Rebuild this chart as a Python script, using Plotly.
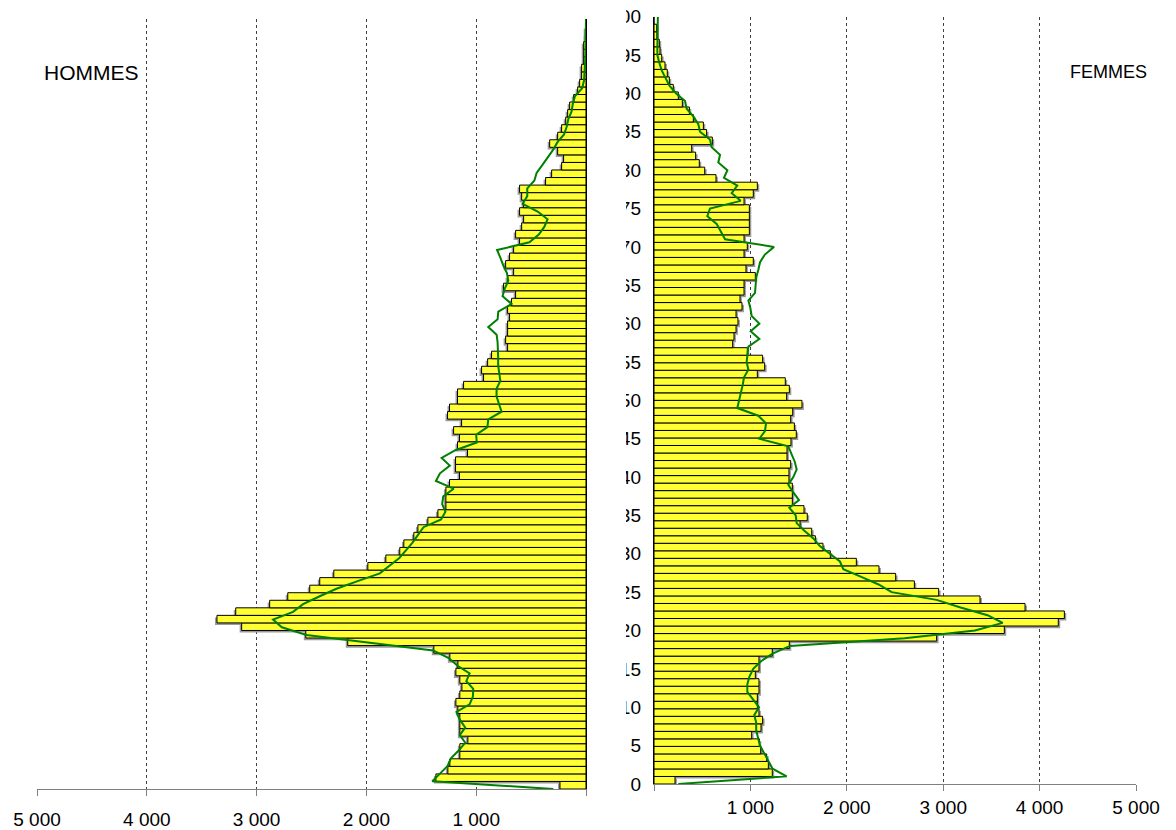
import plotly.graph_objects as go

# ---------------- data ----------------
ages = list(range(0, 102))          # bar categories (0 .. 101)
ages_ref = list(range(0, 101))      # reference line ages (0 .. 100)

hommes = [237, 1367, 1258, 1240, 1149, 1149, 1076, 1149, 1149, 1149,
          1167, 1185, 1149, 1130, 1149, 1185, 1167, 1240, 1386, 2170,
          2552, 3136, 3361, 3190, 2881, 2716, 2516, 2425, 2297, 1987,
          1823, 1696, 1659, 1568, 1531, 1440, 1349, 1276, 1276, 1276,
          1243, 1152, 1188, 1188, 1079, 1170, 1152, 1206, 1133, 1261,
          1243, 1170, 1170, 1115, 933, 951, 896, 860, 714, 732,
          714, 714, 696, 714, 678, 641, 751, 714, 659, 732,
          696, 659, 605, 641, 586, 568, 605, 568, 586, 605,
          368, 313, 222, 204, 258, 331, 258, 222, 185, 167,
          149, 112, 76, 58, 40, 40, 21, 21, 21, 5,
          3, 0]

femmes = [218, 1227, 1186, 1169, 1107, 1093, 1013, 1110, 1127, 1089,
          1072, 1072, 1089, 1089, 1051, 1089, 1089, 1227, 1404, 2932,
          3634, 4194, 4257, 3849, 3382, 2953, 2701, 2507, 2334, 2099,
          1829, 1753, 1674, 1636, 1515, 1590, 1556, 1435, 1435, 1435,
          1400, 1400, 1418, 1380, 1380, 1421, 1476, 1456, 1418, 1439,
          1535, 1376, 1404, 1362, 1072, 1148, 1127, 968, 816, 830,
          851, 871, 851, 913, 892, 934, 934, 1051, 954, 1030,
          934, 968, 934, 989, 989, 989, 989, 934, 1030, 1072,
          643, 526, 470, 432, 391, 605, 546, 512, 408, 367,
          294, 252, 200, 159, 138, 114, 80, 62, 55, 30,
          28, 0]

hommes_ref = [298, 1400, 1330, 1260, 1230, 1160, 1100, 1149, 1100, 1150,
              1180, 1060, 1030, 1027, 1090, 1060, 1170, 1250, 1392, 1970,
              2546, 2770, 2850, 2668, 2577, 2430, 2273, 2080, 1878, 1790,
              1700, 1640, 1580, 1530, 1480, 1320, 1280, 1310, 1300, 1205,
              1367, 1330, 1240, 1315, 1190, 995, 1000, 898, 890, 769,
              790, 815, 814, 780, 790, 800, 800, 800, 805, 814,
              890, 805, 799, 678, 760, 740, 708, 720, 754, 780,
              810, 516, 430, 380, 350, 440, 577, 535, 535, 471,
              450, 400, 350, 300, 260, 200, 176, 161, 131, 120,
              100, 35, 18, 12, 8, 6, 5, 4, 3, 2,
              0]

femmes_ref = [252, 1376, 1230, 1185, 1140, 1100, 1080, 1060, 1060, 1040,
              1090, 1030, 968, 968, 990, 1030, 1110, 1230, 1411, 2600,
              3330, 3617, 3460, 3180, 2932, 2465, 2330, 2150, 1964, 1929,
              1820, 1720, 1653, 1560, 1480, 1470, 1404, 1504, 1445, 1393,
              1445, 1480, 1460, 1428, 1393, 1093, 1151, 1162, 1082, 864,
              885, 899, 920, 934, 979, 961, 970, 979, 1093, 1003,
              1093, 1013, 1000, 979, 1048, 1055, 1060, 1082, 1100, 1150,
              1245, 737, 690, 650, 553, 581, 899, 806, 864, 726,
              761, 667, 685, 598, 581, 477, 460, 408, 339, 322,
              230, 160, 120, 80, 55, 35, 35, 35, 36, 38,
              40]

x_tickvals = [0, 1000, 2000, 3000, 4000, 5000]
x_ticktext = ["", "1 000", "2 000", "3 000", "4 000", "5 000"]
age_tickvals = list(range(0, 101, 5))
age_ticktext = [str(v) for v in age_tickvals]

# ---------------- layout helpers ----------------
# the page body has an 8 px margin, so the figure is placed at (8, 8)
OFF = 8
FW, FH = 1176 - OFF, 830 - OFF
def px(x):
    return (x - OFF) / FW
def py(y):
    return 1 - (y - OFF) / FH

FONT = "Liberation Sans, Arial, sans-serif"
BAR_FILL = "#FFFF33"
SHADOW = "#9a9a9a"
GREEN = "#008000"
SH_DY = 0.28   # drop-shadow offset (in categories)

fig = go.Figure()

# drop shadows
fig.add_trace(go.Bar(x=[v + 18 if v > 0 else 0 for v in hommes],
                     y=[a - SH_DY for a in ages], orientation="h", width=1,
                     marker=dict(color=SHADOW, line=dict(width=0)),
                     xaxis="x", yaxis="y", hoverinfo="skip"))
fig.add_trace(go.Bar(x=[v + 20 if v > 0 else 0 for v in femmes],
                     y=[a - SH_DY for a in ages], orientation="h", width=1,
                     marker=dict(color=SHADOW, line=dict(width=0)),
                     xaxis="x2", yaxis="y2", hoverinfo="skip"))

fig.add_trace(go.Bar(x=hommes, y=ages, orientation="h", width=1,
                     marker=dict(color=BAR_FILL, line=dict(color="black", width=1)),
                     xaxis="x", yaxis="y", hoverinfo="x+y"))
fig.add_trace(go.Scatter(x=hommes_ref, y=ages_ref, mode="lines",
                         line=dict(color=GREEN, width=2),
                         xaxis="x", yaxis="y3"))
fig.add_trace(go.Bar(x=femmes, y=ages, orientation="h", width=1,
                     marker=dict(color=BAR_FILL, line=dict(color="black", width=1)),
                     xaxis="x2", yaxis="y2", hoverinfo="x+y"))
fig.add_trace(go.Scatter(x=femmes_ref, y=ages_ref, mode="lines",
                         line=dict(color=GREEN, width=2),
                         xaxis="x2", yaxis="y4"))

xcommon = dict(showline=True, linecolor="#808080", linewidth=1,
               ticks="outside", ticklen=6, tickcolor="#808080",
               tickvals=x_tickvals, ticktext=x_ticktext,
               showgrid=True, gridcolor="#404040", griddash="dot", gridwidth=1,
               zeroline=False, automargin=False, ticklabeloverflow="allow",
               tickfont=dict(family=FONT, size=19, color="black"))

fig.update_layout(
    width=FW, height=FH,
    margin=dict(l=0, r=0, t=0, b=0, pad=0, autoexpand=False),
    paper_bgcolor="white", plot_bgcolor="white",
    showlegend=False, barmode="overlay",
    xaxis=dict(domain=[px(37), px(586)], range=[5000, 0], anchor="y",
               ticklabelstandoff=7, **xcommon),
    yaxis=dict(domain=[py(789), py(19)], range=[-0.5, 101.5], anchor="x",
               side="right", showline=True, linecolor="black", linewidth=1,
               showticklabels=False, ticks="", showgrid=False, zeroline=False,
               automargin=False),
    yaxis3=dict(overlaying="y", anchor="x", range=[0, 100], visible=False,
                automargin=False),
    xaxis2=dict(domain=[px(654), px(1136)], range=[0, 5000], anchor="y2",
                ticklabelstandoff=0, **xcommon),
    yaxis2=dict(domain=[py(784), py(16.7)], range=[-0.5, 101.5], anchor="x2",
                side="left", showline=True, linecolor="black", linewidth=1,
                showticklabels=False, ticks="", showgrid=False, zeroline=False,
                automargin=False),
    yaxis4=dict(overlaying="y2", anchor="x2", side="left", range=[0, 100],
                tickvals=age_tickvals, ticktext=age_ticktext, ticks="",
                showline=False, showgrid=False, zeroline=False,
                ticklabelstandoff=12, automargin=False,
                ticklabeloverflow="allow",
                tickfont=dict(family=FONT, size=19, color="black")),
)

# mask that clips the age labels on their left side
fig.add_shape(type="rect", xref="paper", yref="paper",
              x0=px(588), x1=px(626), y0=0, y1=1,
              fillcolor="white", line=dict(width=0), layer="above")

fig.add_annotation(text="HOMMES", xref="paper", yref="paper",
                   x=px(42), y=py(72), xanchor="left", yanchor="middle",
                   showarrow=False, font=dict(family=FONT, size=21, color="black"))
fig.add_annotation(text="FEMMES", xref="paper", yref="paper",
                   x=px(1068), y=py(72), xanchor="left", yanchor="middle",
                   showarrow=False, font=dict(family=FONT, size=18, color="black"))

fig.write_html("out.html")
